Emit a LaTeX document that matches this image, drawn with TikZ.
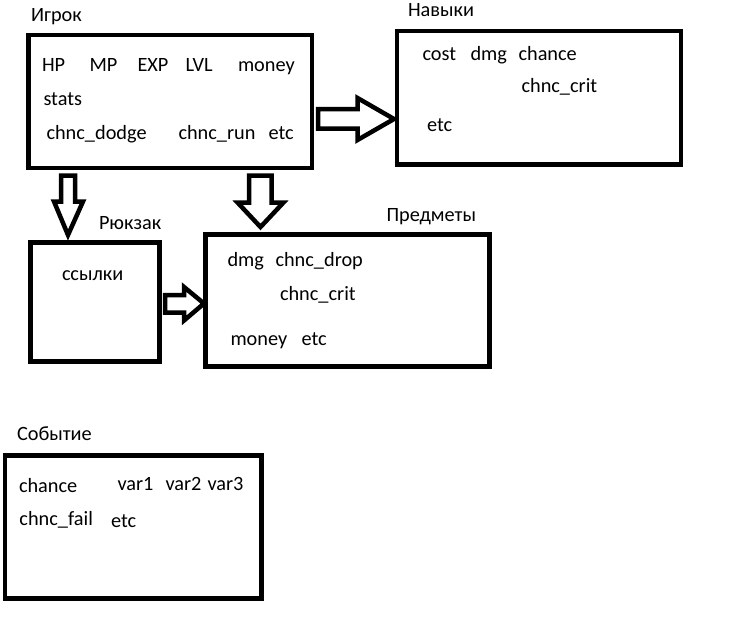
\documentclass[tikz,border=0pt]{standalone}
\usepackage{fontspec}
\setmainfont{Carlito}
\usetikzlibrary{positioning}

\tikzset{
  box/.style={draw, line width=4.5pt, rectangle, inner sep=0pt, outer sep=0pt},
  txt/.style={anchor=base west, inner sep=0pt, outer sep=0pt, font=\fontsize{20.3}{24}\selectfont},
  hollow/.style={draw, line width=4.5pt, line join=miter}
}

\begin{document}
\begin{tikzpicture}[x=1pt,y=-1pt]
            \useasboundingbox (0,0) rectangle (749,616);
            % Boxes
            \node[box, minimum width=283.5pt, minimum height=133pt] (igrok) at (170.25,101.5) {};
            \node[box, minimum width=284pt, minimum height=133.5pt] (navyki) at (539,97.75) {};
            \node[box, minimum width=129pt, minimum height=119pt] (rukzak) at (95,302) {};
            \node[box, minimum width=284pt, minimum height=132pt] (predmety) at (347.5,300.5) {};
            \node[box, minimum width=256.5pt, minimum height=143pt] (sobytie) at (133.25,527) {};

            % Titles
            \node[txt] (tIgrok) at (31,21) {Игрок};
            \node[txt] (tNavyki) at (408,16.7) {Навыки};
            \node[txt] (tRukzak) at (99,229.5) {Рюкзак};
            \node[txt] (tPredmety) at (386.5,221.7) {Предметы};
            \node[txt] (tSobytie) at (17,440) {Событие};

            % Fields of the player
            \node[txt] (hp) at (42,71.7) {HP};
            \node[txt] (mp) at (89.5,71.7) {MP};
            \node[txt] (exp) at (137.5,71.7) {EXP};
            \node[txt] (lvl) at (185.5,71.7) {LVL};
            \node[txt] (money1) at (238,71.7) {money};
            \node[txt] (stats) at (43.5,105.3) {stats};
            \node[txt] (dodge) at (46.5,139.3) {chnc\_dodge};
            \node[txt] (run) at (178.5,139.3) {chnc\_run};
            \node[txt] (etc1) at (268.5,139.3) {etc};

            % Fields of the skills
            \node[txt] (cost) at (422.5,60) {cost};
            \node[txt] (dmg1) at (470.5,60) {dmg};
            \node[txt] (chance1) at (518.5,60) {chance};
            \node[txt] (crit1) at (521.5,92.7) {chnc\_crit};
            \node[txt] (etc2) at (427,131.7) {etc};

            % Backpack
            \node[txt] (links) at (62,280) {ссылки};

            % Fields of the items
            \node[txt] (dmg2) at (227.5,266.7) {dmg};
            \node[txt] (drop) at (275.5,266.7) {chnc\_drop};
            \node[txt] (crit2) at (280,300) {chnc\_crit};
            \node[txt] (money2) at (230.5,345) {money};
            \node[txt] (etc3) at (301.5,345) {etc};

            % Fields of the event
            \node[txt] (chance2) at (19,492.7) {chance};
            \node[txt] (var1) at (117.5,490) {var1};
            \node[txt] (var2) at (165.5,490) {var2};
            \node[txt] (var3) at (207.5,490) {var3};
            \node[txt] (fail) at (19.5,525) {chnc\_fail};
            \node[txt] (etc4) at (111,527.3) {etc};

            % Block arrows
            \draw[hollow] (318,109) -- (357.5,109) -- (357.5,98) -- (394,119) -- (357.5,140) -- (357.5,128.5) -- (318,128.5) -- cycle;
            \draw[hollow] (61,175.5) -- (75,175.5) -- (75,201.5) -- (83,201.5) -- (68,235) -- (54,201.5) -- (61,201.5) -- cycle;
            \draw[hollow] (249,175.5) -- (271.5,175.5) -- (271.5,202.5) -- (283.5,202.5) -- (260.5,227) -- (237.5,202.5) -- (249,202.5) -- cycle;
            \draw[hollow] (165,295) -- (184,295) -- (184,287) -- (204,303.5) -- (184,320.5) -- (184,312.5) -- (165,312.5) -- cycle;
        \end{tikzpicture}
\end{document}
